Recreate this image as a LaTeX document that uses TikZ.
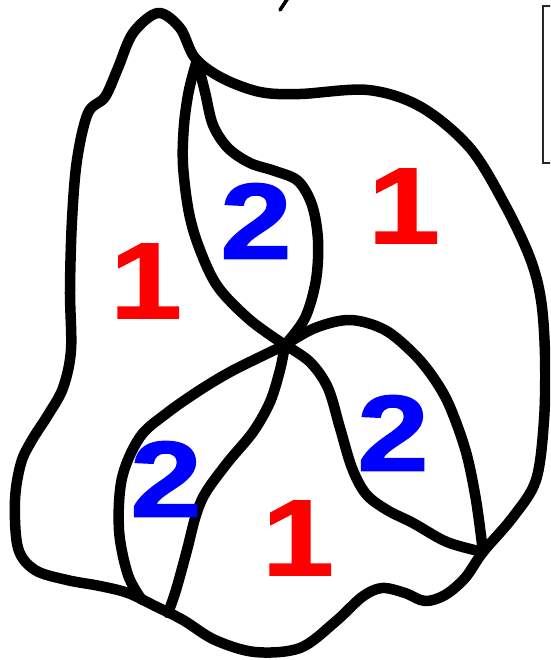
\documentclass[tikz,border=0pt]{standalone}
\usepackage{fontspec}
\newfontfamily\digitfont[FakeStretch=1.2, FakeBold=1.2]{Liberation Sans}
\usepackage{xcolor}
\definecolor{regionred}{RGB}{255, 0, 0}
\definecolor{regionblue}{RGB}{0, 0, 255}

\begin{document}
\begin{tikzpicture}[x=1pt, y=-1pt]
    \tikzstyle{outline} = [line width=10.5pt, line join=round, line cap=round]
    \tikzstyle{digit} = [inner sep=0pt, font=\digitfont\bfseries\fontsize{108}{108}\selectfont]
    \tikzstyle{one} = [digit, text=regionred]
    \tikzstyle{two} = [digit, text=regionblue]

    \useasboundingbox (0,0) rectangle (550,660);
    \clip (0,0) rectangle (550,660);

    % junctions where the strands meet
    \coordinate (top) at (197,60);
    \coordinate (mid) at (285,345);
    \coordinate (lowleftA) at (142,600);
    \coordinate (lowleftB) at (168,613);
    \coordinate (lowright) at (483,552);

    % outer boundary
    \draw [outline] plot [smooth cycle, tension=0.55] coordinates {
        (158,13) (180,28) (195,58) (222,78) (260,92) (300,94) (368,90) (421,107)
        (470,148) (505,205) (530,258) (541,300) (545,355) (544,420) (536,480)
        (513,517) (483,552) (465,578) (445,595) (425,601) (405,593) (382,588)
        (362,597) (335,622) (300,648) (255,652) (215,640) (183,620) (155,606)
        (128,593) (100,586) (67,580) (35,570) (18,548) (15,500) (21,463)
        (32,440) (48,415) (63,388) (71,350) (70,290) (72,220) (77,160) (88,113)
        (105,97) (118,68) (133,33)};

    % upper lens
    \draw [outline] plot [smooth, tension=0.55] coordinates {
        (top) (189,90) (184,125) (183,165) (189,213) (200,250) (218,287) (250,320) (mid)};
    \draw [outline] plot [smooth, tension=0.55] coordinates {
        (top) (205,92) (213,125) (228,148) (250,163) (275,171) (298,181) (312,205)
        (318,240) (316,280) (305,318) (mid)};

    % lower left lens
    \draw [outline] plot [smooth, tension=0.55] coordinates {
        (mid) (260,357) (230,372) (200,390) (167,413) (140,437) (122,478)
        (119,530) (128,575) (lowleftA)};
    \draw [outline] plot [smooth, tension=0.55] coordinates {
        (mid) (280,370) (270,402) (253,432) (228,462) (206,492) (196,515)
        (187,550) (176,590) (lowleftB)};

    % lower right lens
    \draw [outline] plot [smooth, tension=0.55] coordinates {
        (mid) (315,328) (350,320) (385,330) (415,355) (435,380) (450,407)
        (466,452) (476,500) (lowright)};
    \draw [outline] plot [smooth, tension=0.55] coordinates {
        (mid) (310,362) (328,388) (340,428) (352,468) (366,494) (387,510)
        (413,523) (447,542) (lowright)};

    % region labels
    \node (leftone) [one] at (146,281) {1};
    \node (toptwo) [two] at (256,221) {2};
    \node (rightone) [one] at (404,206) {1};
    \node (righttwo) [two] at (393,433) {2};
    \node (lefttwo) [two] at (166,479) {2};
    \node (bottomone) [one] at (298,538) {1};

    % cut-off bits at the edges
    \draw [line width=2.5pt, black!85] (543,6) rectangle (565,163);
    \draw [line width=3.5pt, line cap=round] (288,-2) -- (280,10);
\end{tikzpicture}
\end{document}
